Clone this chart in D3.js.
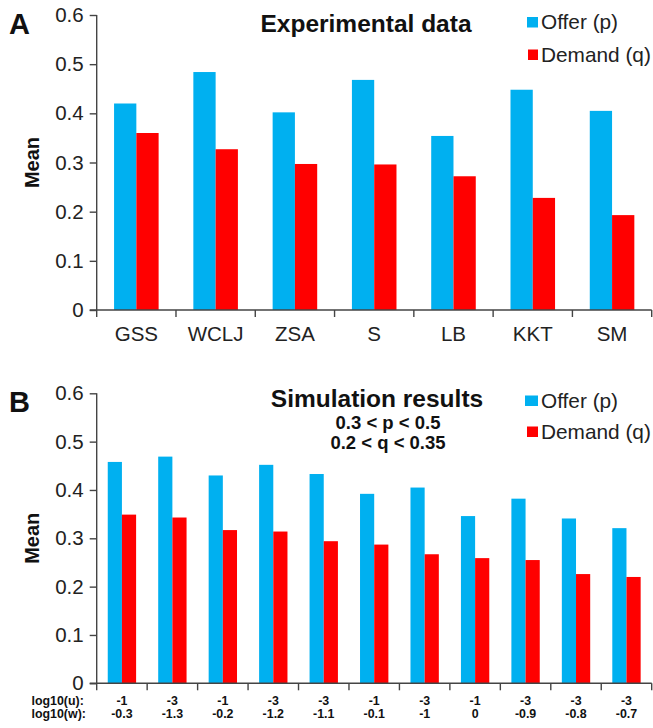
<!DOCTYPE html>
<html>
<head>
<meta charset="utf-8">
<script src="https://cdn.jsdelivr.net/npm/d3@7"></script>
<style>
  html, body { margin: 0; padding: 0; background: #fff; }
  svg { display: block; font-family: "Liberation Sans", Arial, sans-serif; }
</style>
</head>
<body>
<svg id="chart" width="653" height="728"></svg>
<script>
// ---------- DATA ----------
const seriesNames = ["Offer (p)", "Demand (q)"];
const seriesColors = ["#00B0F0", "#FF0000"];
const yTicks = [0, 0.1, 0.2, 0.3, 0.4, 0.5, 0.6];

const catsA = ["GSS", "WCLJ", "ZSA", "S", "LB", "KKT", "SM"];
const offerA = [0.42, 0.484, 0.402, 0.468, 0.354, 0.448, 0.405];
const demandA = [0.36, 0.327, 0.297, 0.296, 0.272, 0.228, 0.193];

const logU = ["-1", "-3", "-1", "-3", "-3", "-1", "-3", "-1", "-3", "-3", "-3"];
const logW = ["-0.3", "-1.3", "-0.2", "-1.2", "-1.1", "-0.1", "-1", "0", "-0.9", "-0.8", "-0.7"];
const offerB = [0.458, 0.469, 0.43, 0.452, 0.433, 0.392, 0.405, 0.346, 0.382, 0.341, 0.321];
const demandB = [0.349, 0.343, 0.317, 0.314, 0.294, 0.287, 0.267, 0.259, 0.255, 0.226, 0.22];

// ---------- DRAW ----------
const svg = d3.select("#chart");
const axisColor = "#444";

function panel(opts) {
  const { cats, values, top, bottom, left, right, letter, title, subtitle, legendY, legendSqX, xlabels } = opts;
  const g = svg.append("g");
  const x = d3.scaleBand().domain(cats).range([left, right]).padding(0);
  const bw = x.bandwidth();
  const x1 = d3.scaleBand().domain(seriesNames).range([0.219 * bw, 0.781 * bw]).padding(0);
  const y = d3.scaleLinear().domain([0, 0.6]).range([bottom, top]);

  // bars
  seriesNames.forEach((s, si) => {
    g.append("g").selectAll("rect").data(cats).join("rect")
      .attr("x", (d) => x(d) + x1(s))
      .attr("y", (d, i) => y(values[si][i]))
      .attr("width", x1.bandwidth())
      .attr("height", (d, i) => y(0) - y(values[si][i]))
      .attr("fill", seriesColors[si]);
  });

  // y axis
  const ya = g.append("g").attr("transform", `translate(${left},0)`)
    .call(d3.axisLeft(y).tickValues(yTicks).tickFormat(d3.format("")).tickSize(7).tickPadding(6));
  ya.select(".domain").attr("stroke", axisColor).attr("stroke-width", 1.4).attr("d", `M0,${top}V${bottom}`);
  ya.selectAll(".tick line").attr("stroke", axisColor).attr("stroke-width", 1.4);
  ya.selectAll(".tick text").attr("font-size", 20.5).attr("fill", "#222").attr("font-family", "Liberation Sans, Arial, sans-serif");

  // x axis line with boundary ticks
  g.append("line").attr("x1", left - 7).attr("x2", right).attr("y1", y(0)).attr("y2", y(0))
    .attr("stroke", axisColor).attr("stroke-width", 1.4);
  const bounds = cats.map((c) => x(c)).concat([x(cats[cats.length - 1]) + bw]);
  g.append("g").selectAll("line").data(bounds).join("line")
    .attr("x1", (d) => d).attr("x2", (d) => d)
    .attr("y1", y(0)).attr("y2", y(0) + 7)
    .attr("stroke", axisColor).attr("stroke-width", 1.4);

  xlabels(g, x, bw, y);

  // Mean label
  const cy = (top + bottom) / 2;
  g.append("text").attr("transform", `translate(39,${cy}) rotate(-90)`)
    .attr("text-anchor", "middle").attr("font-weight", "bold").attr("font-size", 20)
    .attr("fill", "#111").text("Mean");

  // panel letter
  g.append("text").attr("x", 9).attr("y", top + 19).attr("font-weight", "bold")
    .attr("font-size", 29).attr("fill", "#111").text(letter);

  // title
  g.append("text").attr("x", title.x).attr("y", title.y).attr("text-anchor", "middle")
    .attr("font-weight", "bold").attr("font-size", 24.5).attr("fill", "#111").text(title.text);
  if (subtitle) {
    subtitle.lines.forEach((t, i) => {
      g.append("text").attr("x", subtitle.x).attr("y", subtitle.y[i]).attr("text-anchor", "middle")
        .attr("font-weight", "bold").attr("font-size", 18.5).attr("fill", "#111").text(t);
    });
  }

  // legend
  seriesNames.forEach((s, si) => {
    g.append("rect").attr("x", legendSqX[si]).attr("y", legendY[si] - 12)
      .attr("width", 538 - legendSqX[si]).attr("height", 10.5).attr("fill", seriesColors[si]);
    g.append("text").attr("x", 541).attr("y", legendY[si]).attr("font-size", 20.8)
      .attr("fill", "#222").text(s);
  });
}

panel({
  cats: catsA, values: [offerA, demandA], top: 15, bottom: 310, left: 96.7, right: 651.7,
  letter: "A",
  title: { text: "Experimental data", x: 366, y: 31.5 },
  legendY: [29, 61.5], legendSqX: [527, 528],
  xlabels: (g, x, bw, y) => {
    g.append("g").selectAll("text").data(catsA).join("text")
      .attr("x", (d) => x(d) + bw / 2).attr("y", 341).attr("text-anchor", "middle")
      .attr("font-size", 20.5).attr("fill", "#222").text((d) => d);
  }
});

const catsB = logU.map((u, i) => i);
panel({
  cats: catsB, values: [offerB, demandB], top: 393.3, bottom: 683.3, left: 96.7, right: 651.7,
  letter: "B",
  title: { text: "Simulation results", x: 377, y: 406.7 },
  subtitle: { lines: ["0.3 < p < 0.5", "0.2 < q < 0.35"], x: 388, y: [429, 448.5] },
  legendY: [407.5, 438.5], legendSqX: [525, 527],
  xlabels: (g, x, bw, y) => {
    const rows = [logU, logW];
    rows.forEach((row, ri) => {
      g.append("g").selectAll("text").data(catsB).join("text")
        .attr("x", (d) => x(d) + bw / 2).attr("y", 704.6 + ri * 13.6).attr("text-anchor", "middle")
        .attr("font-weight", "bold").attr("font-size", 12.4).attr("fill", "#111").text((d) => row[d]);
    });
    g.append("text").attr("x", 31.5).attr("y", 704.6).attr("font-weight", "bold")
      .attr("font-size", 12.4).attr("fill", "#111").text("log10(u):");
    g.append("text").attr("x", 31.5).attr("y", 718.2).attr("font-weight", "bold")
      .attr("font-size", 12.4).attr("fill", "#111").text("log10(w):");
  }
});
</script>
</body>
</html>
